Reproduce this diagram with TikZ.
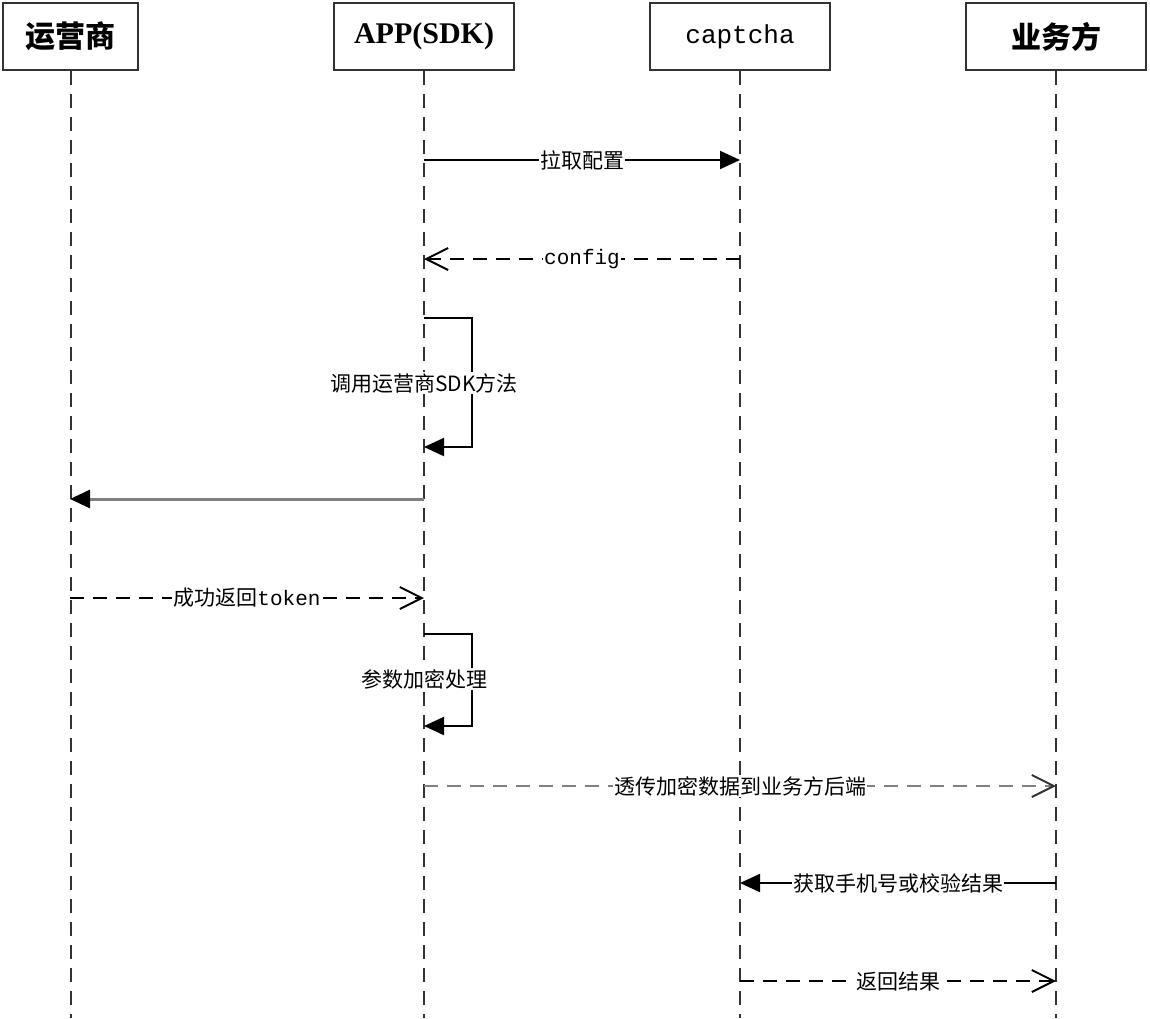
\documentclass[tikz,border=0pt]{standalone}
\usepackage{fontspec}
\setmainfont{Noto Sans CJK SC}
\setmonofont{Liberation Mono}
\newfontfamily\titleserif{Liberation Serif}
\usetikzlibrary{arrows.meta}

\begin{document}
\begin{tikzpicture}[x=1pt,y=-1pt,
  actor/.style={draw=black!80,line width=2pt,fill=white,minimum height=67pt,inner sep=0pt,font=\fontsize{30}{30}\selectfont\bfseries},
  life/.style={draw=black!80,line width=2pt,dash pattern=on 14pt off 9pt},
  call/.style={line width=2pt,-{Triangle[length=20pt,width=18pt]}},
  ret/.style={line width=2pt,dash pattern=on 14pt off 9pt,-{Straight Barb[length=22pt,width=22pt,line width=2pt]}},
  lbl/.style={fill=white,inner sep=1pt,font=\fontsize{21}{21}\selectfont}]
\useasboundingbox (0,0) rectangle (1150,1018);
\coordinate (bottom) at (0,1018);
% lifelines
\node [actor,minimum width=135pt] (yys) at (70.5,36.5) {运营商};
\node [actor,minimum width=180pt] (app) at (424,36.5) {\titleserif APP(SDK)};
\node [actor,minimum width=180pt] (cap) at (740,36.5) {\ttfamily\mdseries\fontsize{26}{26}\selectfont captcha};
\node [actor,minimum width=180pt] (ywf) at (1056,36.5) {业务方};
\draw[life] (yys.south) -- (yys.south |- bottom);
\draw[life] (app.south) -- (app.south |- bottom);
\draw[life] (cap.south) -- (cap.south |- bottom);
\draw[life] (ywf.south) -- (ywf.south |- bottom);
% points on the lifelines
\coordinate (a1) at (424,160); \coordinate (c1) at (740,160);
\coordinate (a2) at (424,259); \coordinate (c2) at (740,259);
\coordinate (a3) at (424,318); \coordinate (a3e) at (424,447);
\coordinate (a4) at (424,499); \coordinate (y4) at (70,499);
\coordinate (a5) at (424,598); \coordinate (y5) at (70,598);
\coordinate (a6) at (424,634); \coordinate (a6e) at (424,726);
\coordinate (a7) at (424,786); \coordinate (w7) at (1056,786);
\coordinate (c8) at (740,883); \coordinate (w8) at (1056,883);
\coordinate (c9) at (740,981); \coordinate (w9) at (1056,981);
% messages
\draw[call] (a1) -- node[lbl] {拉取配置} (c1);
\draw[ret] (c2) -- node[lbl] {\ttfamily config} (a2);
\draw[call] (a3) -- ++(48,0) |- (a3e);
\node[lbl] (m3) at (424,383) {调用运营商SDK方法};
\draw[call,gray,line width=3pt,-{Triangle[length=20pt,width=18pt,color=black]}] (a4) -- (y4);
\draw[ret] (y5) -- node[lbl] {成功返回\ttfamily token} (a5);
\draw[call] (a6) -- ++(48,0) |- (a6e);
\node[lbl] (m6) at (424,679) {参数加密处理};
\draw[ret,gray,-{Straight Barb[length=22pt,width=22pt,line width=2pt,color=black!80]}] (a7) -- node[lbl,text=black] {透传加密数据到业务方后端} (w7);
\draw[call] (w8) -- node[lbl] {获取手机号或校验结果} (c8);
\draw[ret] (c9) -- node[lbl] {返回结果} (w9);
\end{tikzpicture}
\end{document}
